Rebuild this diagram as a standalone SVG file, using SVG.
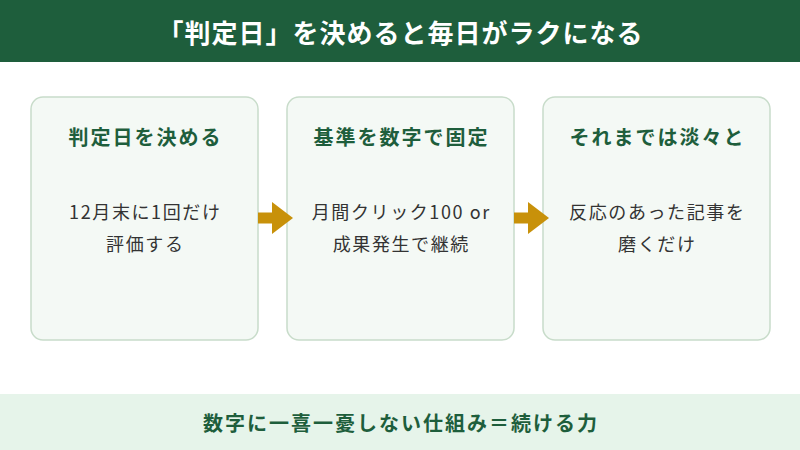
<svg xmlns="http://www.w3.org/2000/svg" width="800" height="450" viewBox="0 0 800 450">
<style>
.t{font-family:"Noto Sans CJK JP","Noto Sans",sans-serif;text-anchor:middle;dominant-baseline:central}
.title{fill:#ffffff;font-size:26px;font-weight:700;letter-spacing:1px}
.head{fill:#1e5e3c;font-size:20px;font-weight:700;letter-spacing:2px}
.body{fill:#333333;font-size:18px;letter-spacing:1.6px}
.foot{fill:#1e5e3c;font-size:20px;font-weight:700;letter-spacing:2px}
.box{fill:#f4f9f5;stroke:#c8dcca;stroke-width:1.5}
.arr{fill:#c8910a}
</style>
<rect x="0" y="0" width="800" height="62" fill="#1e5e3c"/>
<text class="t title" x="400.5" y="31">「判定日」を決めると毎日がラクになる</text>
<g id="step1">
<rect class="box" x="31" y="97" width="227" height="243" rx="12"/>
<text class="t head" x="145.5" y="136">判定日を決める</text>
<text class="t body" x="145.3" y="211">12月末に1回だけ</text>
<text class="t body" x="145.3" y="243">評価する</text>
</g>
<g id="step2">
<rect class="box" x="287" y="97" width="227" height="243" rx="12"/>
<text class="t head" x="401.5" y="136">基準を数字で固定</text>
<text class="t body" x="401.3" y="211">月間クリック100 or</text>
<text class="t body" x="401.3" y="243">成果発生で継続</text>
</g>
<g id="step3">
<rect class="box" x="543" y="97" width="227" height="243" rx="12"/>
<text class="t head" x="657.5" y="136">それまでは淡々と</text>
<text class="t body" x="657.3" y="211">反応のあった記事を</text>
<text class="t body" x="657.3" y="243">磨くだけ</text>
</g>
<g id="connectors">
<polygon class="arr" points="258,212.5 272,212.5 272,202 293,218 272,234 272,223.5 258,223.5"/>
<polygon class="arr" points="514,212.5 528,212.5 528,202 549,218 528,234 528,223.5 514,223.5"/>
</g>
<g id="footer">
<rect x="0" y="394" width="800" height="56" fill="#e6f4ea"/>
<text class="t foot" x="401" y="422">数字に一喜一憂しない仕組み＝続ける力</text>
</g>
</svg>
